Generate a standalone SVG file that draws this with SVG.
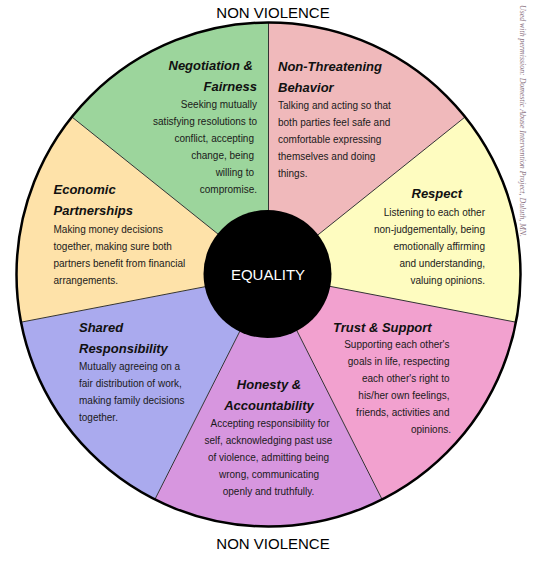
<svg xmlns="http://www.w3.org/2000/svg" width="535" height="563" viewBox="0 0 535 563">
<style>
.t{font-family:"Liberation Sans",Arial,sans-serif;font-size:13px;font-weight:bold;font-style:italic;fill:#111}
.b{font-family:"Liberation Sans",Arial,sans-serif;font-size:10px;fill:#1a1a1a}
.r{text-anchor:end}
.m{text-anchor:middle}
.nv{font-family:"Liberation Sans",Arial,sans-serif;font-size:15px;fill:#000;text-anchor:middle}
.div{stroke:#333;stroke-width:1;fill:none}
</style>
<rect width="535" height="563" fill="#fff"/>
<text class="nv" x="273" y="18">NON VIOLENCE</text>
<text class="nv" x="273" y="549">NON VIOLENCE</text>
<text transform="translate(520,5) rotate(90)" font-family="'Liberation Serif','Times New Roman',serif" font-style="italic" font-size="8" fill="#8a7282" textLength="232" lengthAdjust="spacingAndGlyphs">Used with permission: Domestic Abuse Intervention Project, Duluth, MN.</text>

<g id="non-threatening">
<path d="M268.5,274.5 L268.5,22.5 A252,252 0 0 1 465.2,116.9 Z" fill="#f0b9bb"/>
<text class="t" x="278" y="71">Non-Threatening</text>
<text class="t" x="278" y="92">Behavior</text>
<text class="b" x="278" y="109">Talking and acting so that</text>
<text class="b" x="278" y="126">both parties feel safe and</text>
<text class="b" x="278" y="143">comfortable expressing</text>
<text class="b" x="278" y="160">themselves and doing</text>
<text class="b" x="278" y="177">things.</text>
</g>
<g id="respect">
<path d="M268.5,274.5 L465.2,116.9 A252,252 0 0 1 516,322.2 Z" fill="#fefcc0"/>
<text class="t" x="411.5" y="198">Respect</text>
<text class="b r" x="485" y="216">Listening to each other</text>
<text class="b r" x="485" y="233">non-judgementally, being</text>
<text class="b r" x="485" y="250">emotionally affirming</text>
<text class="b r" x="485" y="267">and understanding,</text>
<text class="b r" x="485" y="284">valuing opinions.</text>
</g>
<g id="trust-support">
<path d="M268.5,274.5 L516,322.2 A252,252 0 0 1 382.1,499.4 Z" fill="#f2a1cf"/>
<text class="t" x="333" y="332">Trust &amp; Support</text>
<text class="b r" x="449.5" y="348">Supporting each other's</text>
<text class="b r" x="449.5" y="365">goals in life, respecting</text>
<text class="b r" x="449.5" y="382">each other's right to</text>
<text class="b r" x="449.5" y="399">his/her own feelings,</text>
<text class="b r" x="449.5" y="416">friends, activities and</text>
<text class="b r" x="451" y="433">opinions.</text>
</g>
<g id="honesty-accountability">
<path d="M268.5,274.5 L382.1,499.4 A252,252 0 0 1 154.9,499.4 Z" fill="#d796df"/>
<text class="t m" x="269" y="389">Honesty &amp;</text>
<text class="t m" x="269" y="410">Accountability</text>
<text class="b m" x="270" y="427">Accepting responsibility for</text>
<text class="b m" x="268.5" y="444">self, acknowledging past use</text>
<text class="b m" x="268.5" y="461">of violence, admitting being</text>
<text class="b m" x="269" y="478">wrong, communicating</text>
<text class="b m" x="268.5" y="495">openly and truthfully.</text>
</g>
<g id="shared-responsibility">
<path d="M268.5,274.5 L154.9,499.4 A252,252 0 0 1 21,322.2 Z" fill="#aaaaee"/>
<text class="t" x="79" y="332">Shared</text>
<text class="t" x="79" y="353">Responsibility</text>
<text class="b" x="79" y="370">Mutually agreeing on a</text>
<text class="b" x="79" y="387">fair distribution of work,</text>
<text class="b" x="79" y="404">making family decisions</text>
<text class="b" x="79" y="421">together.</text>
</g>
<g id="economic-partnerships">
<path d="M268.5,274.5 L21,322.2 A252,252 0 0 1 71.8,116.9 Z" fill="#fee2a9"/>
<text class="t" x="53.5" y="194">Economic</text>
<text class="t" x="53.5" y="215">Partnerships</text>
<text class="b" x="53.5" y="233">Making money decisions</text>
<text class="b" x="53.5" y="250">together, making sure both</text>
<text class="b" x="53.5" y="267">partners benefit from financial</text>
<text class="b" x="53.5" y="284">arrangements.</text>
</g>
<g id="negotiation-fairness">
<path d="M268.5,274.5 L71.8,116.9 A252,252 0 0 1 268.5,22.5 Z" fill="#9cd59c"/>
<text class="t r" x="253" y="70">Negotiation &amp;</text>
<text class="t r" x="257" y="91">Fairness</text>
<text class="b r" x="257" y="108">Seeking mutually</text>
<text class="b r" x="257" y="125">satisfying resolutions to</text>
<text class="b r" x="254" y="142">conflict, accepting</text>
<text class="b r" x="254" y="159">change, being</text>
<text class="b r" x="254" y="176">willing to</text>
<text class="b r" x="257" y="193">compromise.</text>
</g>

<g id="connectors">
<line class="div" x1="268.5" y1="274.5" x2="268.5" y2="22.5"/>
<line class="div" x1="268.5" y1="274.5" x2="465.2" y2="116.9"/>
<line class="div" x1="268.5" y1="274.5" x2="516" y2="322.2"/>
<line class="div" x1="268.5" y1="274.5" x2="382.1" y2="499.4"/>
<line class="div" x1="268.5" y1="274.5" x2="154.9" y2="499.4"/>
<line class="div" x1="268.5" y1="274.5" x2="21" y2="322.2"/>
<line class="div" x1="268.5" y1="274.5" x2="71.8" y2="116.9"/>
</g>
<circle cx="268.5" cy="274.5" r="252" fill="none" stroke="#000" stroke-width="2.5"/>

<g id="equality">
<circle cx="267.5" cy="274" r="64" fill="#000"/>
<text x="268" y="280" font-family="'Liberation Sans',Arial,sans-serif" font-size="15" fill="#fff" text-anchor="middle">EQUALITY</text>
</g>
</svg>
